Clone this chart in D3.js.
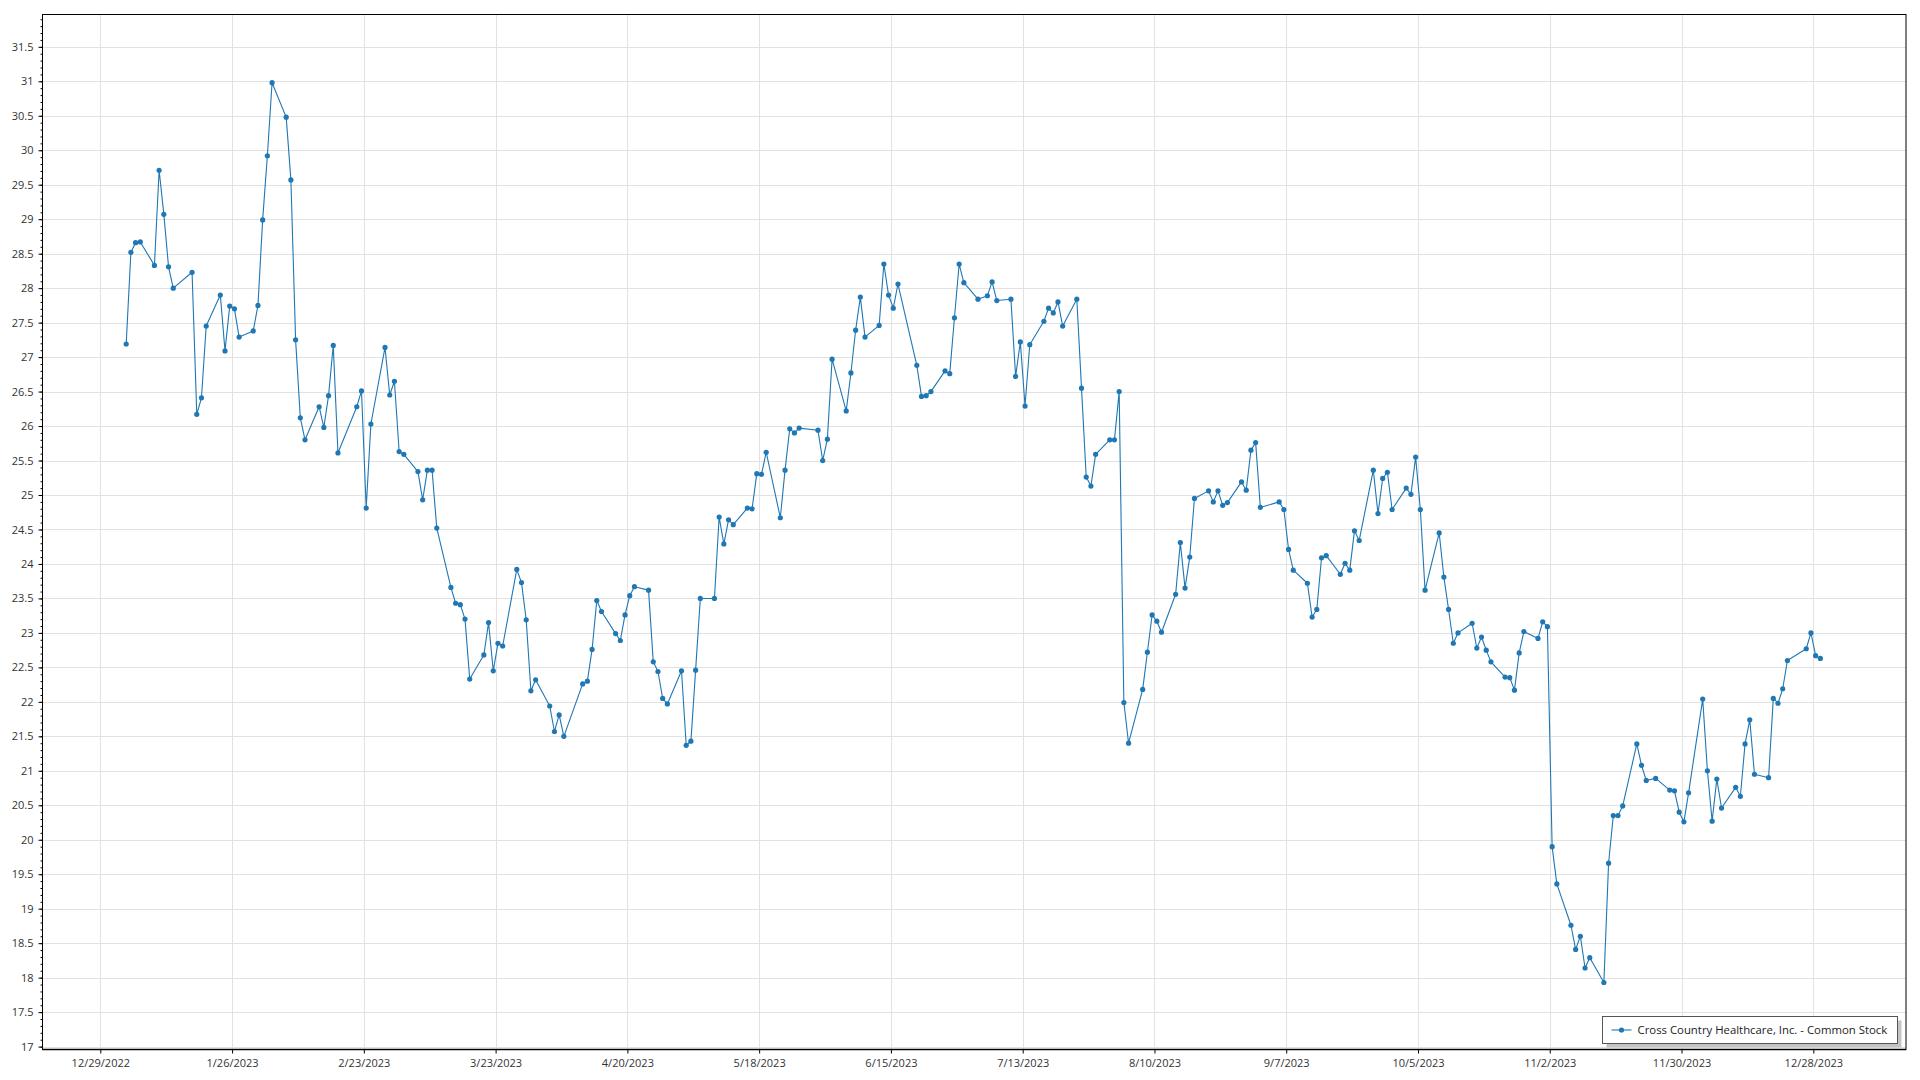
<!DOCTYPE html>
<html><head><meta charset="utf-8">
<script src="https://cdn.jsdelivr.net/npm/d3@7"></script>
<style>html,body{margin:0;padding:0;background:#fff;overflow:hidden}</style>
</head><body><svg id="chart" width="1920" height="1080"></svg>
<script>
const seriesName = "Cross Country Healthcare, Inc. - Common Stock";

const dates = [
"2023-01-03","2023-01-04","2023-01-05","2023-01-06","2023-01-09","2023-01-10","2023-01-11","2023-01-12","2023-01-13","2023-01-17","2023-01-18","2023-01-19","2023-01-20","2023-01-23","2023-01-24","2023-01-25","2023-01-26","2023-01-27","2023-01-30","2023-01-31",
"2023-02-01","2023-02-02","2023-02-03","2023-02-06","2023-02-07","2023-02-08","2023-02-09","2023-02-10","2023-02-13","2023-02-14","2023-02-15","2023-02-16","2023-02-17","2023-02-21","2023-02-22","2023-02-23","2023-02-24","2023-02-27","2023-02-28",
"2023-03-01","2023-03-02","2023-03-03","2023-03-06","2023-03-07","2023-03-08","2023-03-09","2023-03-10","2023-03-13","2023-03-14","2023-03-15","2023-03-16","2023-03-17","2023-03-20","2023-03-21","2023-03-22","2023-03-23","2023-03-24","2023-03-27","2023-03-28","2023-03-29","2023-03-30","2023-03-31",
"2023-04-03","2023-04-04","2023-04-05","2023-04-06","2023-04-10","2023-04-11","2023-04-12","2023-04-13","2023-04-14","2023-04-17","2023-04-18","2023-04-19","2023-04-20","2023-04-21","2023-04-24","2023-04-25","2023-04-26","2023-04-27","2023-04-28",
"2023-05-01","2023-05-02","2023-05-03","2023-05-04","2023-05-05","2023-05-08","2023-05-09","2023-05-10","2023-05-11","2023-05-12","2023-05-15","2023-05-16","2023-05-17","2023-05-18","2023-05-19","2023-05-22","2023-05-23","2023-05-24","2023-05-25","2023-05-26","2023-05-30","2023-05-31",
"2023-06-01","2023-06-02","2023-06-05","2023-06-06","2023-06-07","2023-06-08","2023-06-09","2023-06-12","2023-06-13","2023-06-14","2023-06-15","2023-06-16","2023-06-20","2023-06-21","2023-06-22","2023-06-23","2023-06-26","2023-06-27","2023-06-28","2023-06-29","2023-06-30",
"2023-07-03","2023-07-05","2023-07-06","2023-07-07","2023-07-10","2023-07-11","2023-07-12","2023-07-13","2023-07-14","2023-07-17","2023-07-18","2023-07-19","2023-07-20","2023-07-21","2023-07-24","2023-07-25","2023-07-26","2023-07-27","2023-07-28","2023-07-31",
"2023-08-01","2023-08-02","2023-08-03","2023-08-04","2023-08-07","2023-08-08","2023-08-09","2023-08-10","2023-08-11","2023-08-14","2023-08-15","2023-08-16","2023-08-17","2023-08-18","2023-08-21","2023-08-22","2023-08-23","2023-08-24","2023-08-25","2023-08-28","2023-08-29","2023-08-30","2023-08-31",
"2023-09-01","2023-09-05","2023-09-06","2023-09-07","2023-09-08","2023-09-11","2023-09-12","2023-09-13","2023-09-14","2023-09-15","2023-09-18","2023-09-19","2023-09-20","2023-09-21","2023-09-22","2023-09-25","2023-09-26","2023-09-27","2023-09-28","2023-09-29",
"2023-10-02","2023-10-03","2023-10-04","2023-10-05","2023-10-06","2023-10-09","2023-10-10","2023-10-11","2023-10-12","2023-10-13","2023-10-16","2023-10-17","2023-10-18","2023-10-19","2023-10-20","2023-10-23","2023-10-24","2023-10-25","2023-10-26","2023-10-27","2023-10-30","2023-10-31",
"2023-11-01","2023-11-02","2023-11-03","2023-11-06","2023-11-07","2023-11-08","2023-11-09","2023-11-10","2023-11-13","2023-11-14","2023-11-15","2023-11-16","2023-11-17","2023-11-20","2023-11-21","2023-11-22","2023-11-24","2023-11-27","2023-11-28","2023-11-29","2023-11-30",
"2023-12-01","2023-12-04","2023-12-05","2023-12-06","2023-12-07","2023-12-08","2023-12-11","2023-12-12","2023-12-13","2023-12-14","2023-12-15","2023-12-18","2023-12-19","2023-12-20","2023-12-21","2023-12-22","2023-12-26","2023-12-27","2023-12-28","2023-12-29"
];

const prices = [
27.19,28.52,28.66,28.67,28.33,29.71,29.07,28.31,28.00,28.23,26.17,26.41,27.45,27.90,27.09,27.74,27.70,27.29,27.38,27.75,
28.99,29.92,30.98,30.48,29.57,27.25,26.12,25.80,26.28,25.98,26.44,27.17,25.61,26.28,26.51,24.81,26.03,27.14,26.45,
26.65,25.63,25.59,25.34,24.93,25.36,25.36,24.52,23.66,23.43,23.41,23.20,22.33,22.68,23.15,22.45,22.85,22.81,23.92,23.73,23.19,22.16,22.32,
21.94,21.57,21.81,21.50,22.26,22.30,22.76,23.47,23.31,22.99,22.89,23.26,23.54,23.67,23.62,22.58,22.44,22.05,21.97,
22.45,21.37,21.43,22.46,23.50,23.50,24.68,24.29,24.64,24.57,24.81,24.80,25.31,25.30,25.62,24.67,25.36,25.96,25.90,25.97,25.94,25.50,
25.81,26.97,26.22,26.77,27.39,27.87,27.29,27.46,28.35,27.90,27.71,28.06,26.88,26.43,26.44,26.50,26.80,26.76,27.57,28.35,28.08,
27.84,27.89,28.09,27.82,27.84,26.72,27.22,26.29,27.18,27.52,27.71,27.64,27.80,27.45,27.84,26.55,25.26,25.13,25.59,25.80,
25.80,26.50,21.99,21.40,22.18,22.72,23.26,23.17,23.01,23.56,24.31,23.65,24.10,24.95,25.06,24.90,25.06,24.85,24.89,25.19,25.07,25.65,25.76,
24.82,24.90,24.79,24.21,23.91,23.72,23.23,23.34,24.09,24.12,23.85,24.01,23.91,24.48,24.34,25.36,24.73,25.24,25.33,24.79,
25.10,25.01,25.55,24.79,23.62,24.45,23.81,23.34,22.85,23.00,23.14,22.78,22.94,22.75,22.58,22.36,22.35,22.17,22.71,23.02,22.92,23.16,
23.09,19.90,19.36,18.76,18.41,18.60,18.14,18.29,17.93,19.66,20.35,20.35,20.49,21.39,21.08,20.86,20.89,20.72,20.71,20.40,20.26,
20.68,22.04,21.00,20.27,20.88,20.46,20.76,20.63,21.39,21.74,20.95,20.90,22.05,21.98,22.19,22.60,22.77,23.00,22.67,22.63
];

const xTickDates = ["2022-12-29","2023-01-26","2023-02-23","2023-03-23","2023-04-20","2023-05-18","2023-06-15","2023-07-13","2023-08-10","2023-09-07","2023-10-05","2023-11-02","2023-11-30","2023-12-28"];
const yTickValues = [17,17.5,18,18.5,19,19.5,20,20.5,21,21.5,22,22.5,23,23.5,24,24.5,25,25.5,26,26.5,27,27.5,28,28.5,29,29.5,30,30.5,31,31.5];

const plot = {left: 42.5, top: 14.5, right: 1906, bottom: 1049.5};
const lineColor = "#1f77b4";
const gridColor = "#e2e2e2";
const textColor = "#333";
const fontFamily = "'Open Sans', 'Noto Sans', sans-serif";

const parse = d3.utcParse("%Y-%m-%d");
const fmt = d3.utcFormat("%-m/%-d/%Y");
const x = d3.scaleUtc()
  .domain([parse(xTickDates[0]), parse(xTickDates[xTickDates.length - 1])])
  .range([100.3, 1813.3]);
const y = d3.scaleLinear().domain([17, 31]).range([1046.6, 81.3]);

const data = dates.map((d, i) => ({date: d3.utcHour.offset(parse(d), 12), value: prices[i]}));

const svg = d3.select("#chart");
svg.append("rect").attr("width", 1920).attr("height", 1080).attr("fill", "#fff");

// gridlines
const grid = svg.append("g");
grid.selectAll("line.h").data(yTickValues).join("line")
  .attr("x1", plot.left).attr("x2", plot.right)
  .attr("y1", d => Math.round(y(d)) + 0.5).attr("y2", d => Math.round(y(d)) + 0.5)
  .attr("stroke", gridColor).attr("stroke-width", 1);
grid.selectAll("line.v").data(xTickDates.map(parse)).join("line")
  .attr("x1", d => Math.round(x(d)) + 0.5).attr("x2", d => Math.round(x(d)) + 0.5)
  .attr("y1", plot.top).attr("y2", plot.bottom)
  .attr("stroke", gridColor).attr("stroke-width", 1);

// frame
svg.append("rect")
  .attr("x", plot.left).attr("y", plot.top)
  .attr("width", plot.right - plot.left).attr("height", plot.bottom - plot.top)
  .attr("fill", "none").attr("stroke", "#000").attr("stroke-width", 1);

// y axis (major + minor)
const yAxisG = svg.append("g").attr("transform", `translate(${plot.left},0)`)
  .call(d3.axisLeft(y).tickValues(yTickValues).tickFormat(d => String(d)).tickSize(4).tickPadding(5));
const minorVals = d3.range(170, 320).map(v => v / 10);
const yMinorG = svg.append("g").attr("transform", `translate(${plot.left},0)`)
  .call(d3.axisLeft(y).tickValues(minorVals).tickFormat("").tickSize(2));
[yAxisG, yMinorG].forEach(g => {
  g.select(".domain").remove();
  g.selectAll("line").attr("stroke", "#000");
});
yAxisG.selectAll("text").attr("fill", textColor).style("font-family", fontFamily).style("font-size", "11px");

// x axis
const xAxisG = svg.append("g").attr("transform", `translate(0,${plot.bottom})`)
  .call(d3.axisBottom(x).tickValues(xTickDates.map(parse)).tickFormat(fmt).tickSize(4).tickPadding(6));
xAxisG.select(".domain").remove();
xAxisG.selectAll("line").attr("stroke", "#000");
xAxisG.selectAll("text").attr("fill", textColor).style("font-family", fontFamily).style("font-size", "11px");
svg.append("line").attr("x1", plot.left).attr("x2", plot.right)
  .attr("y1", plot.bottom).attr("y2", plot.bottom).attr("stroke", "#000").attr("stroke-width", 1.6);

// series
const line = d3.line().x(d => x(d.date)).y(d => y(d.value));
svg.append("path").datum(data).attr("d", line)
  .attr("fill", "none").attr("stroke", lineColor).attr("stroke-width", 1.1).attr("stroke-linejoin", "round");
svg.append("g").selectAll("circle").data(data).join("circle")
  .attr("cx", d => x(d.date)).attr("cy", d => y(d.value)).attr("r", 2.6)
  .attr("fill", lineColor);

// legend
const lg = {x: 1602.5, y: 1016.5, w: 295, h: 27};
svg.append("rect").attr("x", lg.x + 4).attr("y", lg.y + 4).attr("width", lg.w).attr("height", lg.h).attr("fill", "#c4c4c4");
svg.append("rect").attr("x", lg.x).attr("y", lg.y).attr("width", lg.w).attr("height", lg.h)
  .attr("fill", "#fff").attr("stroke", "#555").attr("stroke-width", 1);
svg.append("line").attr("x1", lg.x + 9).attr("x2", lg.x + 29).attr("y1", lg.y + 13.5).attr("y2", lg.y + 13.5)
  .attr("stroke", lineColor).attr("stroke-width", 1.1);
svg.append("circle").attr("cx", lg.x + 19).attr("cy", lg.y + 13.5).attr("r", 2.6).attr("fill", lineColor);
const lt = svg.append("text").attr("x", lg.x + 35).attr("y", lg.y + 13.5).attr("dy", "0.35em")
  .attr("fill", "#222").style("font-family", fontFamily).style("font-size", "12px").text(seriesName);
const tw = lt.node().getComputedTextLength();
if (tw > 0) lt.style("font-size", (12 * 250 / tw).toFixed(2) + "px");
</script>
</body></html>
